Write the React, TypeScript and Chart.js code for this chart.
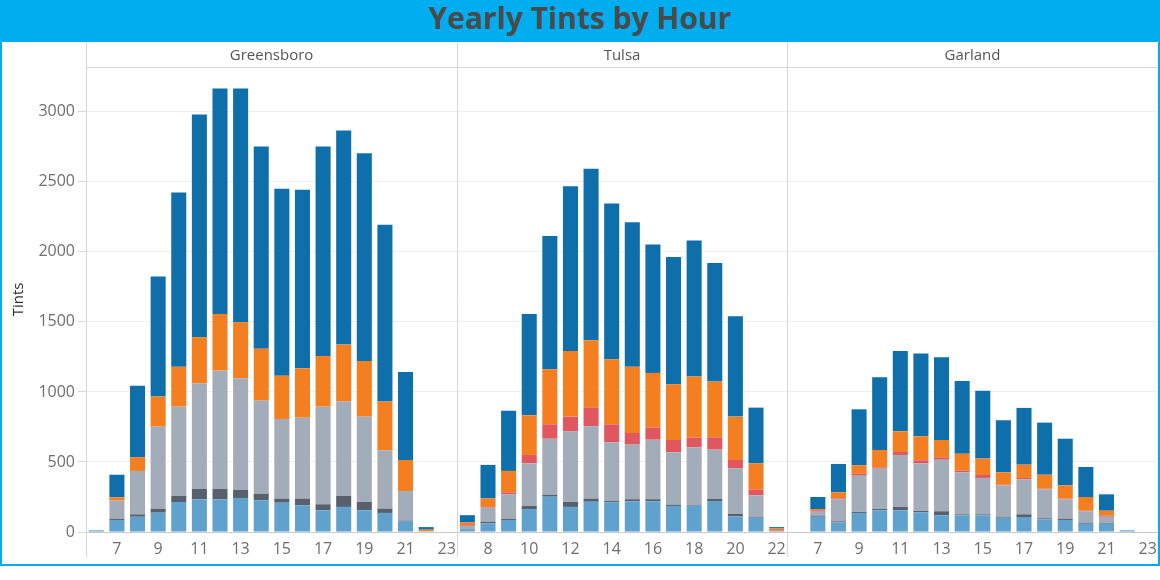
import { useEffect, useRef } from "react"
import { Chart, registerables } from "chart.js"
Chart.register(...registerables)

// panels and their hours
const panelNames = ["Greensboro", "Tulsa", "Garland"]
const greensboroHours = [6, 7, 8, 9, 10, 11, 12, 13, 14, 15, 16, 17, 18, 19, 20, 21, 22, 23]
const tulsaHours = [7, 8, 9, 10, 11, 12, 13, 14, 15, 16, 17, 18, 19, 20, 21, 22]
const garlandHours = [6, 7, 8, 9, 10, 11, 12, 13, 14, 15, 16, 17, 18, 19, 20, 21, 22, 23]

// hours that get a tick label
const greensboroTicks = [7, 9, 11, 13, 15, 17, 19, 21, 23]
const tulsaTicks = [8, 10, 12, 14, 16, 18, 20, 22]
const garlandTicks = [7, 9, 11, 13, 15, 17, 19, 21, 23]

const yTicks = [0, 500, 1000, 1500, 2000, 2500, 3000]

// stacked segments, bottom to top
const greensboroLightBlue = [12, 86, 109, 138, 214, 233, 233, 243, 226, 209, 190, 155, 179, 155, 136, 74, 0, 0]
const greensboroSlate = [0, 9, 17, 29, 43, 74, 74, 57, 48, 29, 48, 43, 78, 59, 31, 7, 0, 0]
const greensboroGray = [0, 129, 310, 585, 638, 755, 845, 798, 664, 569, 578, 697, 674, 610, 416, 212, 5, 0]
const greensboroRed = [0, 0, 0, 0, 0, 0, 0, 0, 0, 0, 0, 0, 0, 0, 0, 0, 0, 0]
const greensboroOrange = [0, 24, 98, 215, 284, 329, 405, 400, 371, 309, 353, 362, 407, 397, 348, 221, 12, 0]
const greensboroBlue = [0, 161, 511, 857, 1245, 1590, 1610, 1669, 1443, 1334, 1274, 1495, 1529, 1484, 1262, 629, 18, 0]

const tulsaLightBlue = [20, 62, 86, 164, 252, 179, 216, 212, 219, 219, 186, 186, 221, 112, 102, 3]
const tulsaSlate = [3, 12, 9, 22, 14, 35, 22, 9, 15, 15, 9, 4, 15, 17, 7, 0]
const tulsaGray = [20, 100, 174, 304, 400, 505, 517, 420, 390, 425, 374, 415, 352, 326, 153, 5]
const tulsaRed = [5, 5, 14, 60, 103, 105, 133, 128, 83, 86, 88, 69, 88, 59, 40, 5]
const tulsaOrange = [20, 61, 153, 283, 393, 469, 481, 465, 472, 391, 398, 436, 398, 310, 188, 12]
const tulsaBlue = [52, 239, 430, 724, 952, 1176, 1224, 1111, 1033, 916, 909, 971, 847, 717, 398, 10]

const garlandLightBlue = [0, 109, 69, 136, 155, 155, 141, 119, 119, 119, 102, 107, 90, 86, 59, 59, 12, 0]
const garlandSlate = [0, 8, 7, 7, 9, 24, 9, 29, 7, 7, 7, 19, 8, 9, 7, 5, 0, 0]
const garlandGray = [0, 28, 157, 259, 288, 371, 340, 368, 300, 260, 224, 250, 207, 138, 82, 45, 0, 0]
const garlandRed = [0, 10, 7, 14, 10, 21, 22, 17, 12, 21, 5, 10, 4, 5, 4, 7, 0, 0]
const garlandOrange = [0, 9, 43, 60, 124, 148, 171, 124, 121, 117, 88, 95, 100, 95, 98, 36, 0, 0]
const garlandBlue = [0, 86, 203, 400, 519, 574, 591, 591, 520, 485, 372, 405, 372, 333, 214, 117, 0, 0]

const segmentColors = ["#5fa2ce", "#57606c", "#a3acb9", "#e0575f", "#f47f20", "#0f6faa"]

const panelHours = [greensboroHours, tulsaHours, garlandHours]
const panelTicks = [greensboroTicks, tulsaTicks, garlandTicks]
const panelSeries = [
  [greensboroLightBlue, greensboroSlate, greensboroGray, greensboroRed, greensboroOrange, greensboroBlue],
  [tulsaLightBlue, tulsaSlate, tulsaGray, tulsaRed, tulsaOrange, tulsaBlue],
  [garlandLightBlue, garlandSlate, garlandGray, garlandRed, garlandOrange, garlandBlue],
]

const labels = panelHours.flatMap((hours) => hours.map(String))
const showTick = panelHours.flatMap((hours, p) => hours.map((h) => panelTicks[p].includes(h)))

const FONT = "'Open Sans', 'DejaVu Sans', sans-serif"

// draws the facet headers and the panel dividers
const panelFrame = {
  id: "panelFrame",
  afterDraw(chart: any) {
    const { ctx, chartArea, scales } = chart
    const x = scales.x
    ctx.save()
    ctx.strokeStyle = "#d6d6d6"
    ctx.lineWidth = 1
    ctx.beginPath()
    ctx.moveTo(chartArea.left, chartArea.top + 0.5)
    ctx.lineTo(chartArea.right, chartArea.top + 0.5)
    ctx.stroke()

    let start = 0
    panelNames.forEach((name, i) => {
      const n = panelHours[i].length
      const left = i === 0 ? chartArea.left : (x.getPixelForValue(start - 1) + x.getPixelForValue(start)) / 2
      const right =
        i === panelNames.length - 1 ? chartArea.right : (x.getPixelForValue(start + n - 1) + x.getPixelForValue(start + n)) / 2
      const lx = Math.round(left) + 0.5
      ctx.beginPath()
      ctx.moveTo(lx, 0)
      ctx.lineTo(lx, chartArea.bottom + 25)
      ctx.stroke()

      ctx.fillStyle = "#555"
      ctx.font = `15px ${FONT}`
      ctx.textAlign = "center"
      ctx.textBaseline = "middle"
      ctx.fillText(name, (left + right) / 2, chartArea.top / 2 + 1)
      start += n
    })
    ctx.restore()
  },
}

export default function App() {
  const chartRef = useRef<HTMLCanvasElement>(null)
  const chartInstance = useRef<Chart | null>(null)

  useEffect(() => {
    if (!chartRef.current) return
    if (chartInstance.current) chartInstance.current.destroy()
    const ctx = chartRef.current.getContext("2d")
    if (!ctx) return

    const datasets = segmentColors.map((color, s) => ({
      label: "s" + s,
      data: panelSeries.flatMap((series) => series[s]),
      backgroundColor: color,
      borderWidth: 0,
      barPercentage: 0.73,
      categoryPercentage: 1,
    }))

    chartInstance.current = new Chart(ctx, {
      type: "bar",
      data: { labels, datasets },
      plugins: [panelFrame],
      options: {
        animation: false,
        responsive: true,
        maintainAspectRatio: false,
        layout: { padding: { top: 25, right: 0, bottom: 0, left: 0 } },
        scales: {
          x: {
            stacked: true,
            grid: { display: true, color: "rgba(0,0,0,0)", drawTicks: true, tickLength: 8, tickColor: "rgba(0,0,0,0)" },
            border: { display: true, color: "#c8c8c8" },
            ticks: {
              autoSkip: false,
              maxRotation: 0,
              padding: 0,
              color: "#6e6e6e",
              font: { family: FONT, size: 16 },
              callback: (_v: any, i: number) => (showTick[i] ? labels[i] : ""),
            },
            afterFit: (scale: any) => {
              scale.height = 32
            },
          },
          y: {
            stacked: true,
            min: 0,
            max: 3320,
            grid: { color: "#efefef", tickColor: "#d9d9d9", tickLength: 8 },
            border: { display: true, color: "#d6d6d6" },
            afterBuildTicks: (scale: any) => {
              scale.ticks = yTicks.map((v) => ({ value: v }))
            },
            ticks: {
              padding: 3,
              color: "#6e6e6e",
              font: { family: FONT, size: 16 },
              callback: (v: any) => String(v),
            },
            title: {
              display: true,
              text: "Tints",
              color: "#333",
              font: { family: FONT, size: 15 },
              padding: { top: 8, bottom: 0 },
            },
            afterFit: (scale: any) => {
              scale.width = 84
            },
          },
        },
        plugins: {
          legend: { display: false },
          tooltip: { mode: "index", intersect: false },
        },
      },
    })

    return () => {
      if (chartInstance.current) chartInstance.current.destroy()
    }
  }, [])

  return (
    <div
      style={{
        position: "absolute",
        left: 0,
        top: 0,
        width: 1160,
        height: 566,
        boxSizing: "border-box",
        border: "2px solid #00aeef",
        background: "#fff",
      }}
    >
      <div
        style={{
          height: 40,
          background: "#00aeef",
          color: "#4a4a4a",
          fontFamily: FONT,
          fontWeight: 700,
          fontSize: 30,
          lineHeight: "31px",
          textAlign: "center",
          overflow: "hidden",
        }}
      >
        Yearly Tints by Hour
      </div>
      <div style={{ position: "relative", width: 1156, height: 522 }}>
        <canvas ref={chartRef}></canvas>
      </div>
    </div>
  )
}
